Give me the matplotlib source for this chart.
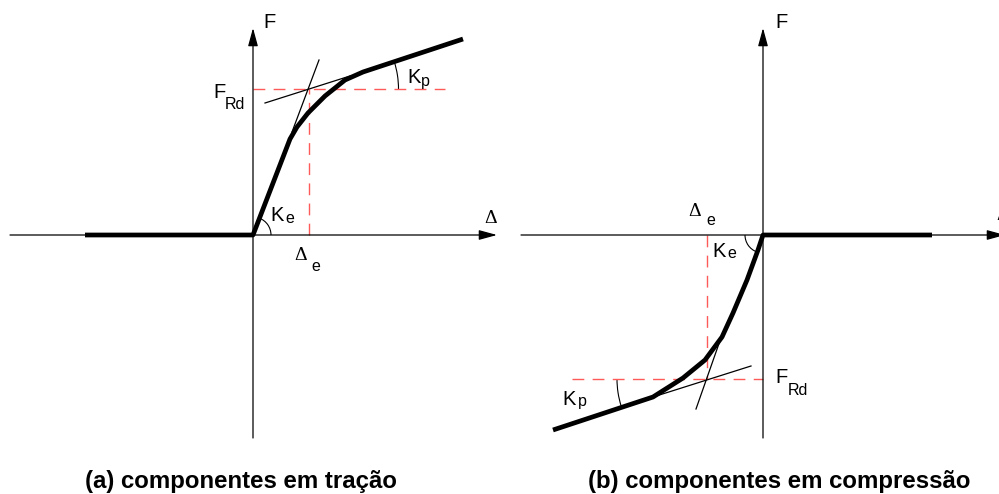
import numpy as np
import matplotlib.pyplot as plt
from matplotlib.patches import Arc

plt.rcParams['font.family'] = ['Liberation Sans', 'DejaVu Sans']

# force-displacement curves (displacement, force), arbitrary units
tension_d = [-168, 0, 37, 44, 55, 72, 92, 110, 210]
tension_f = [0, 0, 96, 108, 122, 139, 155, 163, 196]
compression_d = [169, 0, -5, -16, -30, -41, -58, -80, -110, -210]
compression_f = [0, 0, -15, -45, -78, -102, -125, -143, -162, -195]

# tangent lines (elastic and plastic stiffness)
tens_ke_d = [39, 66]
tens_ke_f = [103, 175]
tens_kp_d = [12, 97]
tens_kp_f = [132, 159]
comp_ke_d = [-41, -67]
comp_ke_f = [-100, -174]
comp_kp_d = [-12, -110]
comp_kp_f = [-131, -162]

# resistance level and elastic limit displacement
tens_frd = 146
tens_de = 55.5
comp_frd = -144
comp_de = -56

fig = plt.figure(figsize=(9.99, 4.94), dpi=100)
ax1 = fig.add_axes([0, 0, 0.5, 1])
ax2 = fig.add_axes([0.5, 0, 0.5, 1])
ax1.set_xlim(-253, 246.5)
ax2.set_xlim(-263.5, 236)
for ax in (ax1, ax2):
    ax.set_ylim(-259, 235)
    ax.axis('off')

arrow = dict(arrowstyle='-|>,head_length=0.55,head_width=0.15', mutation_scale=20,
             lw=0.9, color='k', shrinkA=0, shrinkB=0)
red = '#ff5a5a'
main = 14.5
sub = 11.5
delta = 14
delta_font = 'Liberation Serif'


def axes_arrows(ax, x0, x1):
    ax.annotate('', xy=(x1, 0), xytext=(x0, 0), arrowprops=arrow, annotation_clip=False)
    ax.annotate('', xy=(0, 207), xytext=(0, -203), arrowprops=arrow, annotation_clip=False)


def label(ax, x, y, s, xs, ys, s2, size=main, family=None):
    kw = {} if family is None else {'family': family}
    ax.text(x, y, s, fontsize=size, ha='left', va='baseline', clip_on=False, **kw)
    ax.text(xs, ys, s2, fontsize=sub, ha='left', va='baseline', clip_on=False)


# (a) tension
axes_arrows(ax1, -243, 244)
ax1.plot([0, 192], [tens_frd, tens_frd], color=red, lw=1, dashes=(8.5, 6))
ax1.plot([tens_de, tens_de], [0, tens_frd], color=red, lw=1, dashes=(8.5, 6))
ax1.plot(tens_ke_d, tens_ke_f, color='k', lw=0.9)
ax1.plot(tens_kp_d, tens_kp_f, color='k', lw=0.9)
ax1.plot(tension_d, tension_f, color='k', lw=3.4, solid_joinstyle='round', solid_capstyle='butt')
ang_e = np.degrees(np.arctan2(tension_f[2], tension_d[2]))
ax1.add_patch(Arc((0, 0), 36, 36, theta1=0, theta2=ang_e, lw=0.8))
ang_p = np.degrees(np.arctan2(tens_kp_f[1] - tens_kp_f[0], tens_kp_d[1] - tens_kp_d[0]))
ax1.add_patch(Arc((tens_de, tens_frd), 180, 180, theta1=0, theta2=ang_p, lw=0.8))

ax1.text(10, 206.7, 'F', fontsize=main, ha='left', va='baseline')
label(ax1, -39.7, 137, 'F', -28, 126, 'Rd')
label(ax1, 154, 151.7, 'K', 168, 148.5, 'p')
label(ax1, 17, 14, 'K', 32, 11.7, 'e')
label(ax1, 41, -25, '\u0394', 58.7, -36, 'e', size=delta, family=delta_font)
ax1.text(231, 12, '\u0394', fontsize=delta, family=delta_font, ha='left', va='baseline')

# (b) compression
axes_arrows(ax2, -242, 242)
ax2.plot([-191, 0], [comp_frd, comp_frd], color=red, lw=1, dashes=(8.5, 6))
ax2.plot([comp_de, comp_de], [0, comp_frd], color=red, lw=1, dashes=(8.5, 6))
ax2.plot(comp_ke_d, comp_ke_f, color='k', lw=0.9)
ax2.plot(comp_kp_d, comp_kp_f, color='k', lw=0.9)
ax2.plot(compression_d, compression_f, color='k', lw=3.4, solid_joinstyle='round', solid_capstyle='butt')
ang_e2 = np.degrees(np.arctan2(compression_f[4], compression_d[4])) % 360
ax2.add_patch(Arc((0, 0), 36, 36, theta1=180, theta2=ang_e2, lw=0.8))
ang_p2 = np.degrees(np.arctan2(comp_kp_f[1] - comp_kp_f[0], comp_kp_d[1] - comp_kp_d[0])) % 360
ax2.add_patch(Arc((comp_de, comp_frd), 180, 180, theta1=180, theta2=ang_p2, lw=0.8))

ax2.text(12, 206.7, 'F', fontsize=main, ha='left', va='baseline')
label(ax2, -75, 19, '\u0394', -57, 10, 'e', size=delta, family=delta_font)
label(ax2, -50.7, -21.7, 'K', -35.5, -23.3, 'e')
label(ax2, 12, -148.3, 'F', 24.7, -160, 'Rd')
label(ax2, -200.3, -170, 'K', -185, -170.7, 'p')
ax2.text(233, 15, '\u0394', fontsize=delta, family=delta_font, ha='left', va='baseline', clip_on=False)

fig.text(0.241, 0.012, '(a) componentes em tração', fontsize=17.3, fontweight='bold',
         ha='center', va='baseline')
fig.text(0.78, 0.012, '(b) componentes em compressão', fontsize=17.3, fontweight='bold',
         ha='center', va='baseline')

fig.savefig('out.png', dpi=100)
